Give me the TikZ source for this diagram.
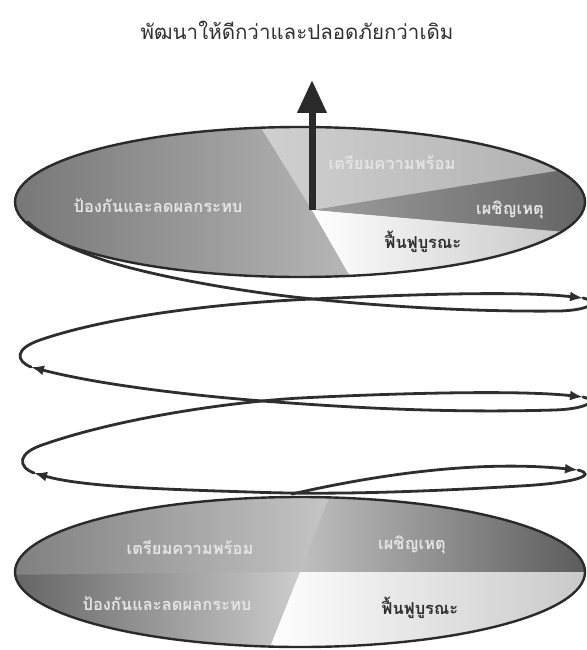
\documentclass[tikz,border=0pt]{standalone}
\usepackage{fontspec}
\newfontfamily\thaifont[Script=Thai]{Loma}
\usetikzlibrary{arrows.meta}
\definecolor{rimgray}{HTML}{2A2A2A}
\definecolor{coilgray}{HTML}{2E2E2E}
\definecolor{lightlbl}{HTML}{E4E4E4}
\definecolor{darklbl}{HTML}{303030}
\begin{document}
\begin{tikzpicture}[x=1pt,y=-1pt,
  coil/.style={line width=2.8pt,draw=coilgray,line cap=round},
  coiltip/.style={coil,-{Latex[length=13pt,width=10pt]}},
  rim/.style={line width=2.4pt,draw=rimgray},
  lbl/.style={font=\thaifont\bfseries\fontsize{16.5}{18}\selectfont,text=lightlbl,inner sep=1pt},
  lbldark/.style={lbl,text=darklbl}]
\useasboundingbox (0,0) rectangle (586,650);

\node[font=\thaifont\fontsize{20.5}{24}\selectfont,text=darklbl] (title) at (297,30) {พัฒนาให้ดีกว่าและปลอดภัยกว่าเดิม};

\coordinate (O1) at (312,210);
\coordinate (O2) at (300,572);

\begin{scope}
\clip (300,202) ellipse [x radius=285,y radius=75];
\shade[left color=black!55,right color=black!28] (O1) -- (358,290) -- (-10,290) -- (-10,110) -- (252,110) -- cycle;
\shade[left color=black!18,right color=black!32] (O1) -- (250,110) -- (600,110) -- (600,165) -- cycle;
\shade[left color=black!38,right color=black!62] (O1) -- (600,164) -- (600,236) -- cycle;
\shade[left color=white,right color=black!25] (O1) -- (600,235) -- (600,290) -- (358,290) -- cycle;
\end{scope}
\draw[rim] (300,202) ellipse [x radius=285,y radius=75];

\begin{scope}
\clip (300,572) ellipse [x radius=285,y radius=75];
\shade[left color=black!52,right color=black!22] (-10,480) -- (338,480) -- (298,578) -- (-10,578) -- cycle;
\shade[left color=black!64,right color=black!20] (-10,575) -- (O2) -- (263,665) -- (-10,665) -- cycle;
\shade[left color=black!25,right color=black!66] (336,480) -- (600,480) -- (600,573) -- (O2) -- cycle;
\shade[left color=white,right color=black!22] (O2) -- (600,572) -- (600,665) -- (263,665) -- cycle;
\end{scope}
\draw[rim] (300,572) ellipse [x radius=285,y radius=75];

\node[lbl] (prepA) at (392,163) {เตรียมความพร้อม};
\node[lbl] (respA) at (510,210) {เผชิญเหตุ};
\node[lbldark] (recA) at (423,242) {ฟื้นฟูบูรณะ};
\node[lbl] (prevA) at (158,206) {ป้องกันและลดผลกระทบ};
\node[lbl] (prepB) at (190,548) {เตรียมความพร้อม};
\node[lbl] (respB) at (412,545) {เผชิญเหตุ};
\node[lbl] (prevB) at (167,604) {ป้องกันและลดผลกระทบ};
\node[lbldark] (recB) at (420,608) {ฟื้นฟูบูรณะ};

\coordinate (start) at (292,494);
\coordinate (r3) at (578,470);
\coordinate (l2) at (34,473);
\coordinate (r2) at (583,397);
\coordinate (l1) at (31,367);
\coordinate (r1) at (583,298);
\coordinate (finish) at (28,222);
\coordinate (top) at (312,80);

\draw[coiltip] (start) .. controls (380,474) and (480,460) .. (r3);
\draw[coiltip] (r3) .. controls (598,475) and (575,483) .. (520,486)
  .. controls (420,492) and (330,495) .. (250,492)
  .. controls (150,489) and (80,486) .. (l2);
\draw[coiltip] (l2) .. controls (18,467) and (16,453) .. (45,444)
  .. controls (120,418) and (230,402) .. (300,398)
  .. controls (400,393) and (520,390) .. (r2);
\draw[coiltip] (r2) .. controls (600,401) and (585,409) .. (555,410)
  .. controls (450,413) and (360,408) .. (290,403)
  .. controls (200,397) and (100,385) .. (l1);
\draw[coiltip] (l1) .. controls (16,361) and (14,349) .. (40,340)
  .. controls (110,316) and (220,303) .. (313,299)
  .. controls (420,294) and (520,291) .. (r1);
\draw[coil] (r1) .. controls (600,302) and (590,310) .. (560,311)
  .. controls (470,312) and (380,306) .. (313,299)
  .. controls (240,292) and (140,274) .. (95,257)
  .. controls (62,245) and (40,234) .. (finish);

\draw[line width=7pt,draw=rimgray,-{Triangle[length=33pt,width=28pt]}] (O1) -- (top);
\end{tikzpicture}
\end{document}
